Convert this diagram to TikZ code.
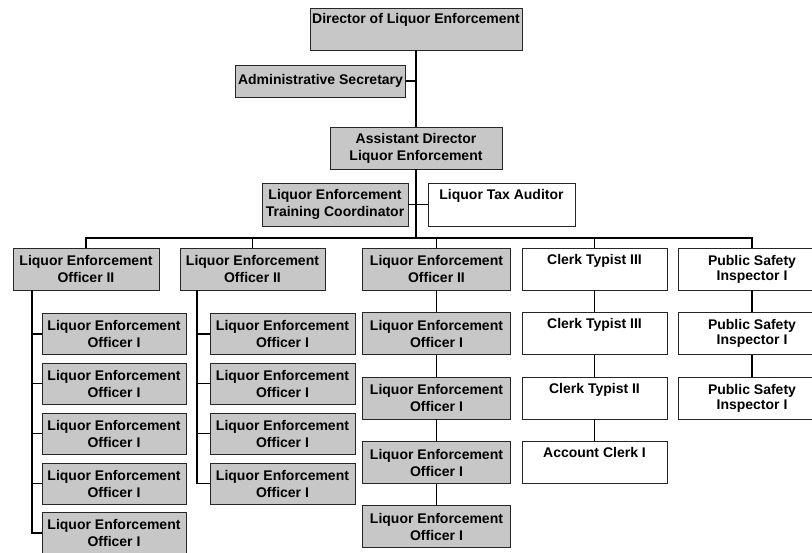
\documentclass[tikz,border=0pt]{standalone}
\usepackage{fontspec}
\setmainfont{Liberation Sans}
\begin{document}
\begin{tikzpicture}[x=1pt,y=-1pt,
  box/.style={draw=black!85, line width=0.9pt, inner sep=0pt, align=center,
    font=\bfseries\fontsize{14}{17}\selectfont},
  gbox/.style={box, fill=black!22},
  wbox/.style={box, fill=white, font=\bfseries\fontsize{14}{15}\selectfont},
  conn/.style={line width=1.4pt, black},
  kid/.style={gbox, minimum width=#1, minimum height=41pt},
  lvl/.style={minimum width=#1, minimum height=42pt}]
\useasboundingbox (0,0) rectangle (812,553);
\clip (0,0) rectangle (812,553);
% top levels
\node[gbox, lvl=212] (dir) at (416,29) {Director of Liquor Enforcement\\\strut};
\node[gbox, minimum width=170, minimum height=32] (admin) at (320.5,81) {Administrative Secretary};
\node[gbox, lvl=172] (asst) at (416,148) {Assistant Director\\Liquor Enforcement};
\node[gbox, minimum width=146, minimum height=43] (train) at (335,204.5) {Liquor Enforcement\\Training Coordinator};
\node[wbox, minimum width=147, minimum height=43] (tax) at (501.5,204.5) {Liquor Tax Auditor\\\strut};
% level 1
\node[gbox, lvl=146] (c1) at (86,269) {Liquor Enforcement\\Officer II};
\node[gbox, lvl=145] (c2) at (252.5,269) {Liquor Enforcement\\Officer II};
\node[gbox, lvl=148] (c3) at (436.5,269) {Liquor Enforcement\\Officer II};
\node[wbox, lvl=145] (c4) at (594.5,269) {Clerk Typist III\\\strut};
\node[wbox, lvl=148] (c5) at (752,269) {Public Safety\\Inspector I};
% column 1 children
\foreach \i/\y in {1/334,2/383.5,3/433.5,4/483.5,5/533}
  \node[kid=144] (a\i) at (114,\y) {Liquor Enforcement\\Officer I};
% column 2 children
\foreach \i/\y in {1/334,2/383.5,3/433.5,4/483.5}
  \node[kid=145] (b\i) at (282.5,\y) {Liquor Enforcement\\Officer I};
% column 3 children
\foreach \i/\y in {1/333.5,2/398,3/462.5,4/526.5}
  \node[gbox, lvl=148] (d\i) at (436.5,\y) {Liquor Enforcement\\Officer I};
% column 4 children
\node[wbox, lvl=145] (e1) at (594.5,333.5) {Clerk Typist III\\\strut};
\node[wbox, lvl=145] (e2) at (594.5,398) {Clerk Typist II\\\strut};
\node[wbox, lvl=145] (e3) at (594.5,462.5) {Account Clerk I\\\strut};
% column 5 children
\node[wbox, lvl=148] (f1) at (752,333.5) {Public Safety\\Inspector I};
\node[wbox, lvl=148] (f2) at (752,398) {Public Safety\\Inspector I};
% connectors
\coordinate (bus) at (416,238);
\coordinate (s1) at (32,290);
\coordinate (s2) at (197,290);
\draw[conn] (dir.south) -- (asst.north);
\draw[conn] (admin.east) -- (admin.east -| dir.south);
\draw[conn] (train.east) -- (tax.west);
\draw[conn] (asst.south) -- (bus);
\draw[conn] (c1.north) |- (bus) -| (c5.north);
\draw[conn] (c2.north) -- (c2.north |- bus);
\draw[conn] (c3.north) -- (c3.north |- bus);
\draw[conn] (c4.north) -- (c4.north |- bus);
\draw[conn] (s1) |- (a5.west);
\foreach \i in {1,2,3,4} \draw[conn] (a\i.west) -- (a\i.west -| s1);
\draw[conn] (s2) |- (b4.west);
\foreach \i in {1,2,3} \draw[conn] (b\i.west) -- (b\i.west -| s2);
\draw[conn] (c3.south) -- (d1.north);
\draw[conn] (d1.south) -- (d2.north);
\draw[conn] (d2.south) -- (d3.north);
\draw[conn] (d3.south) -- (d4.north);
\draw[conn] (c4.south) -- (e1.north);
\draw[conn] (e1.south) -- (e2.north);
\draw[conn] (e2.south) -- (e3.north);
\draw[conn] (c5.south) -- (f1.north);
\draw[conn] (f1.south) -- (f2.north);
\end{tikzpicture}
\end{document}
